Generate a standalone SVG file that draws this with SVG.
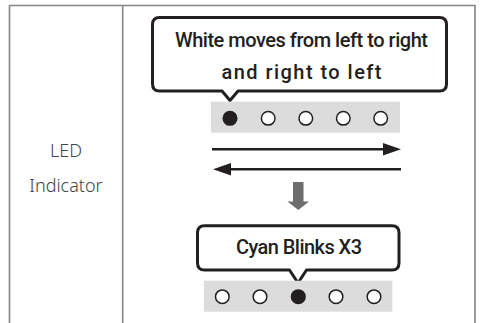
<svg xmlns="http://www.w3.org/2000/svg" width="482" height="323" viewBox="0 0 482 323">
<style>
.grid{stroke:#858585;stroke-width:1.6;fill:none}
.bub{fill:#fff;stroke:#231f20;stroke-width:3;stroke-linejoin:round}
.bt{font-family:Roboto,"Liberation Sans",sans-serif;font-weight:500;font-size:20px;fill:#231f20;text-anchor:middle}
.lbl{font-family:"Noto Sans","Liberation Sans",sans-serif;font-weight:300;font-size:18px;fill:#444;text-anchor:middle}
.strip{fill:#dcdcdc}
.off{fill:#fff;stroke:#231f20;stroke-width:1.5}
.on{fill:#231f20;stroke:#231f20;stroke-width:1.5}
.ln{stroke:#231f20;stroke-width:2.6}
.hd{fill:#231f20}
</style>
<g id="table">
<path class="grid" d="M9.5 323V5.5H475V323M122.7 5.5V323"/>
</g>
<g id="label">
<text class="lbl" x="66" y="156.5">LED</text>
<text class="lbl" x="66" y="191.5">Indicator</text>
</g>
<g id="bubble1">
<path class="bub" d="M159.5 17.5H439.5Q446.5 17.5 446.5 24.5V84Q446.5 91 439.5 91H238L230 100.5L222 91H159.5Q152.5 91 152.5 84V24.5Q152.5 17.5 159.5 17.5Z"/>
<text class="bt" x="301.5" y="46.5" textLength="253" lengthAdjust="spacing">White moves from left to right</text>
<text class="bt" x="301.5" y="78.5" textLength="160" lengthAdjust="spacing">and right to left</text>
</g>
<g id="leds1">
<rect class="strip" x="211" y="101.7" width="189" height="31"/>
<circle class="on" cx="230" cy="118.3" r="6.8"/>
<circle class="off" cx="268.2" cy="118.3" r="6.8"/>
<circle class="off" cx="305.8" cy="118.3" r="6.8"/>
<circle class="off" cx="343.3" cy="118.3" r="6.8"/>
<circle class="off" cx="380.7" cy="118.3" r="6.8"/>
</g>
<g id="connectors">
<line class="ln" x1="212" y1="149.3" x2="385" y2="149.3"/>
<polygon class="hd" points="383,143 401,149.3 383,155.6"/>
<line class="ln" x1="229" y1="169.3" x2="401" y2="169.3"/>
<polygon class="hd" points="231,163 213,169.3 231,175.6"/>
<polygon fill="#6d6d6d" points="293,182 303.5,182 303.5,201.5 309,201.5 298.3,210 287.5,201.5 293,201.5"/>
</g>
<g id="bubble2">
<path class="bub" d="M204.5 225.7H392Q399 225.7 399 232.7V263Q399 270 392 270H306.5L298 283L289.5 270H204.5Q197.5 270 197.5 263V232.7Q197.5 225.7 204.5 225.7Z"/>
<text class="bt" x="299" y="254" textLength="126" lengthAdjust="spacing">Cyan Blinks X3</text>
</g>
<g id="leds2">
<rect class="strip" x="204" y="280.7" width="188.3" height="31"/>
<circle class="off" cx="222.3" cy="296.7" r="6.8"/>
<circle class="off" cx="260" cy="296.7" r="6.8"/>
<circle class="on" cx="298.3" cy="296.7" r="6.8"/>
<circle class="off" cx="336" cy="296.7" r="6.8"/>
<circle class="off" cx="374" cy="296.7" r="6.8"/>
</g>
</svg>
